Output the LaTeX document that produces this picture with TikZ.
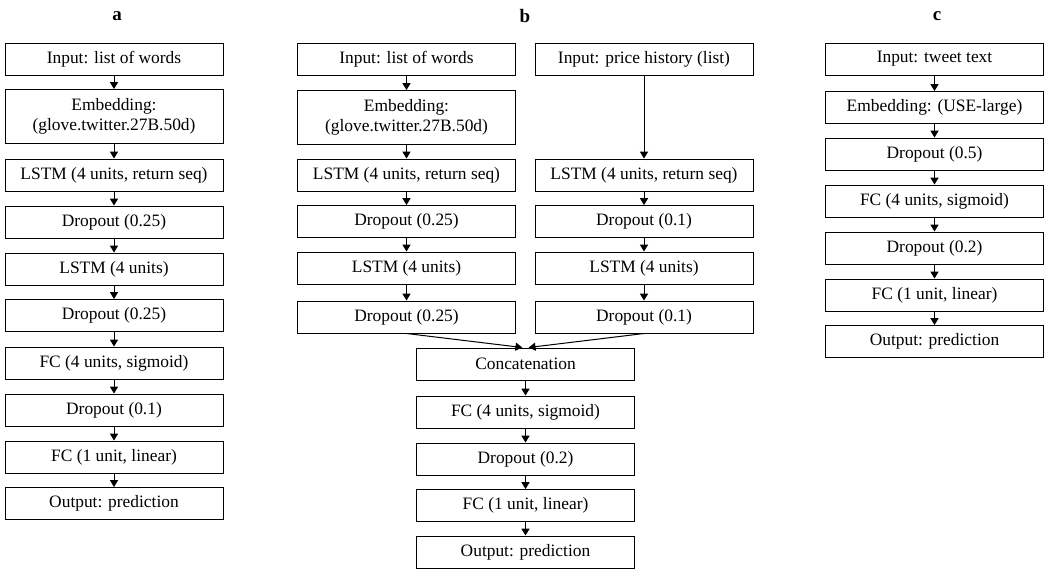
\documentclass[tikz,border=0pt]{standalone}
\usepackage{fontspec}
\setmainfont{Liberation Serif}
\usepackage{tikz}
\usetikzlibrary{arrows.meta, positioning}

\begin{document}
\begin{tikzpicture}[x=0.5pt, y=-0.5pt,
  font=\fontsize{8.7}{10.2}\selectfont,
  L/.style={draw=black, line width=0.5pt, minimum width=109pt, minimum height=16pt, inner sep=0pt, align=center},
  E/.style={L, minimum height=27pt},
  T/.style={font=\fontsize{9.5}{11}\selectfont\bfseries},
  arr/.style={-{Triangle[length=3.4pt, width=4pt]}, line width=0.5pt}]
\useasboundingbox (0,0) rectangle (1045,569);
% panel labels
\node[T] (ta) at (117,16) {a};
\node[T] (tb) at (525,16) {b};
\node[T] (tc) at (937,16) {c};
% a: word model
\node[L] (a1) at (114,59)  {Input: list of words};
\node[E] (a2) at (114,116.5) {Embedding:\\(glove.twitter.27B.50d)};
\node[L] (a3) at (114,175) {LSTM (4 units, return seq)};
\node[L] (a4) at (114,222) {Dropout (0.25)};
\node[L] (a5) at (114,269) {LSTM (4 units)};
\node[L] (a6) at (114,315.5) {Dropout (0.25)};
\node[L] (a7) at (114,363) {FC (4 units, sigmoid)};
\node[L] (a8) at (114,410) {Dropout (0.1)};
\node[L] (a9) at (114,457) {FC (1 unit, linear)};
\node[L] (a10) at (114,503.5) {Output: prediction};
\draw[arr] (a1)--(a2); \draw[arr] (a2)--(a3); \draw[arr] (a3)--(a4);
\draw[arr] (a4)--(a5); \draw[arr] (a5)--(a6); \draw[arr] (a6)--(a7);
\draw[arr] (a7)--(a8); \draw[arr] (a8)--(a9); \draw[arr] (a9)--(a10);
% b: words + price history, merged
\node[L] (bl1) at (406.5,59)  {Input: list of words};
\node[E] (bl2) at (406.5,117.5) {Embedding:\\(glove.twitter.27B.50d)};
\node[L] (bl3) at (406.5,175) {LSTM (4 units, return seq)};
\node[L] (bl4) at (406.5,221.5) {Dropout (0.25)};
\node[L] (bl5) at (406.5,268) {LSTM (4 units)};
\node[L] (bl6) at (406.5,317) {Dropout (0.25)};
\node[L] (br1) at (644,59)  {Input: price history (list)};
\node[L] (br3) at (644,175) {LSTM (4 units, return seq)};
\node[L] (br4) at (644,221.5) {Dropout (0.1)};
\node[L] (br5) at (644,268) {LSTM (4 units)};
\node[L] (br6) at (644,317) {Dropout (0.1)};
\node[L] (b1) at (525.5,364) {Concatenation};
\node[L] (b2) at (525.5,412) {FC (4 units, sigmoid)};
\node[L] (b3) at (525.5,459) {Dropout (0.2)};
\node[L] (b4) at (525.5,505.5) {FC (1 unit, linear)};
\node[L] (b5) at (525.5,552) {Output: prediction};
\draw[arr] (bl1)--(bl2); \draw[arr] (bl2)--(bl3); \draw[arr] (bl3)--(bl4);
\draw[arr] (bl4)--(bl5); \draw[arr] (bl5)--(bl6);
\draw[arr] (br1)--(br3); \draw[arr] (br3)--(br4);
\draw[arr] (br4)--(br5); \draw[arr] (br5)--(br6);
\draw[arr] (bl6.south) -- ([xshift=-1.6pt]b1.north);
\draw[arr] (br6.south) -- ([xshift=1.6pt]b1.north);
\draw[arr] (b1)--(b2); \draw[arr] (b2)--(b3); \draw[arr] (b3)--(b4); \draw[arr] (b4)--(b5);
% c: tweet model
\node[L] (c1) at (934.5,59)  {Input: tweet text};
\node[L] (c2) at (934.5,107.5) {Embedding: (USE-large)};
\node[L] (c3) at (934.5,154) {Dropout (0.5)};
\node[L] (c4) at (934.5,201) {FC (4 units, sigmoid)};
\node[L] (c5) at (934.5,248) {Dropout (0.2)};
\node[L] (c6) at (934.5,295) {FC (1 unit, linear)};
\node[L] (c7) at (934.5,341.5) {Output: prediction};
\draw[arr] (c1)--(c2); \draw[arr] (c2)--(c3); \draw[arr] (c3)--(c4);
\draw[arr] (c4)--(c5); \draw[arr] (c5)--(c6); \draw[arr] (c6)--(c7);
\end{tikzpicture}
\end{document}
